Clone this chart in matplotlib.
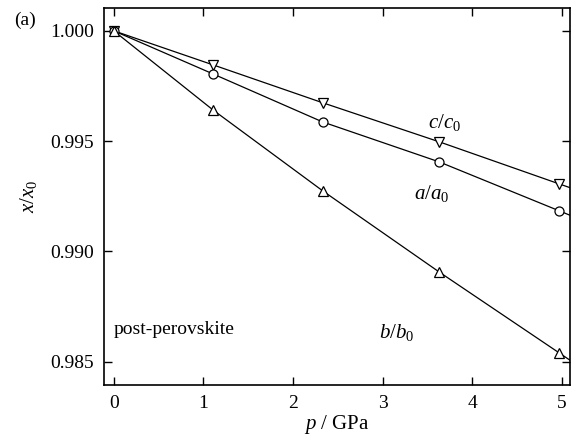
import matplotlib
matplotlib.use('Agg')
import matplotlib.pyplot as plt

plt.rcParams['font.family'] = ['Liberation Serif', 'DejaVu Serif']
plt.rcParams['mathtext.fontset'] = 'custom'
plt.rcParams['mathtext.rm'] = 'Liberation Serif'
plt.rcParams['mathtext.it'] = 'Liberation Serif:italic'

# measured points
p = [0.0, 1.105, 2.33, 3.63, 4.97]
c_ratio = [1.0, 0.99846, 0.99674, 0.99497, 0.99306]
a_ratio = [1.0, 0.99805, 0.99587, 0.99406, 0.99184]
b_ratio = [1.0, 0.99642, 0.99275, 0.98907, 0.98540]

# fitted curves (running to the right edge)
p_fit = [0.0, 1.105, 2.33, 3.63, 4.97, 5.09]
c_fit = [1.0, 0.99846, 0.99674, 0.99497, 0.99306, 0.99289]
a_fit = [1.0, 0.99805, 0.99587, 0.99406, 0.99184, 0.99164]
b_fit = [1.0, 0.99642, 0.99275, 0.98907, 0.98540, 0.98507]

xticks = [0, 1, 2, 3, 4, 5]
yticks = [0.985, 0.990, 0.995, 1.000]

fig = plt.figure(figsize=(5.77, 4.36), dpi=100)
ax = fig.add_axes([0.180, 0.117, 0.808, 0.865])

lw = 0.9
ax.plot(p_fit, c_fit, color='black', lw=lw)
ax.plot(p_fit, a_fit, color='black', lw=lw)
ax.plot(p_fit, b_fit, color='black', lw=lw)
ax.plot(p, c_ratio, linestyle='none', marker='v', ms=7, mfc='white', mec='black', mew=0.9)
ax.plot(p, a_ratio, linestyle='none', marker='o', ms=6.5, mfc='white', mec='black', mew=0.9)
ax.plot(p, b_ratio, linestyle='none', marker='^', ms=7, mfc='white', mec='black', mew=0.9)

ax.set_xlim(-0.11, 5.09)
ax.set_ylim(0.98395, 1.00104)
ax.set_xticks(xticks)
ax.set_yticks(yticks)
ax.set_yticklabels(['%.3f' % v for v in yticks])
ax.tick_params(direction='in', length=6, width=1, labelsize=14, top=True, right=True, pad=7)
for s in ax.spines.values():
    s.set_linewidth(1.2)

ax.set_xlabel('$p$ / GPa', fontsize=15, labelpad=1)
ax.set_ylabel('$x/x_0$', fontsize=15, labelpad=8)

ax.text(3.69, 0.99583, '$c/c_0$', fontsize=15, ha='center', va='center')
ax.text(3.55, 0.99261, '$a/a_0$', fontsize=15, ha='center', va='center')
ax.text(3.16, 0.98631, '$b/b_0$', fontsize=15, ha='center', va='center')
ax.text(0.67, 0.98645, 'post-perovskite', fontsize=14, ha='center', va='center')
fig.text(25 / 577, 1 - 20 / 436, '(a)', fontsize=14, ha='center', va='center')

fig.savefig('out.png', dpi=100)
